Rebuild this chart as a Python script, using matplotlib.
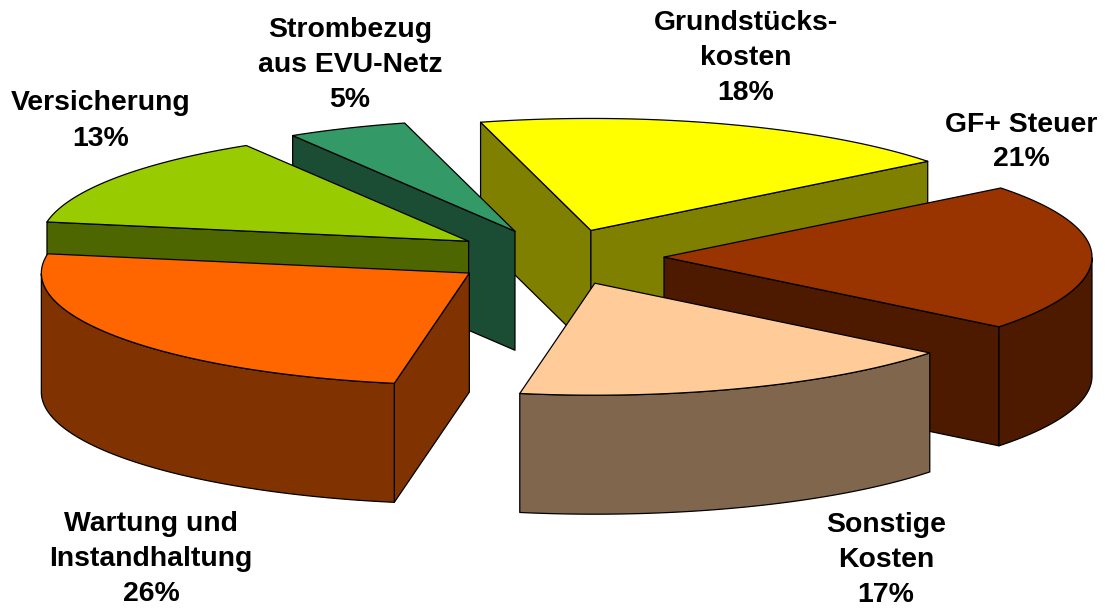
import numpy as np
import matplotlib
matplotlib.use("Agg")
import matplotlib.pyplot as plt
from matplotlib.patches import Polygon

# Data (clockwise, starting at the yellow slice)
labels = ["Grundstücks-\nkosten", "GF+ Steuer", "Sonstige\nKosten",
          "Wartung und\nInstandhaltung", "Versicherung", "Strombezug\naus EVU-Netz"]
values = [18, 21, 17, 26, 13, 5]
top_colors = ["#FFFF00", "#993300", "#FFCC99", "#FF6600", "#99CC00", "#339966"]
side_colors = ["#808000", "#4D1A00", "#80664D", "#803300", "#4D6600", "#1A4D33"]
label_pos = [(746, 58), (1021, 142), (886, 560), (151, 559), (101, 121), (350, 65)]

# Projection of the pie
CX, CY, RX, RY, DEPTH, EXPLODE, START = 557, 257, 428, 112, 119, 0.25, -15.5
# Angular distortion of the 3D view, sampled at the slice boundaries
VIEW_SHIFT = [0.56, 2.6, 3.6, 4.0, 0.2, 2.2, 0.56]

edges = START + np.concatenate([[0], np.cumsum(values)]) * 3.6


def warp(t):
    return t + np.interp(t, edges, VIEW_SHIFT)


def point(t, ox, oy, dz=0.0):
    r = np.radians(warp(t))
    return ox + RX * np.sin(r), oy - RY * np.cos(r) + dz


fig = plt.figure(figsize=(11.05, 6.08), dpi=100)
ax = fig.add_axes([0, 0, 1, 1])
ax.set_xlim(0, 1105)
ax.set_ylim(608, 0)
ax.axis("off")

slices = []
for i in range(len(values)):
    slices.append((edges[i], edges[i + 1], top_colors[i], side_colors[i]))
# far slices are painted first
slices.sort(key=lambda s: -np.cos(np.radians(warp((s[0] + s[1]) / 2))))

for t1, t2, top, side in slices:
    mid = np.radians(warp((t1 + t2) / 2))
    ox = CX + EXPLODE * RX * np.sin(mid)
    oy = CY - EXPLODE * RY * np.cos(mid)
    kw = dict(edgecolor="black", linewidth=0.9, joinstyle="round")
    w1, w2 = np.radians(warp(t1)), np.radians(warp(t2))
    for t, visible in ((t1, np.sin(w1) < 0), (t2, np.sin(w2) > 0)):
        if visible:
            a = point(t, ox, oy)
            b = point(t, ox, oy, DEPTH)
            ax.add_patch(Polygon([(ox, oy), a, b, (ox, oy + DEPTH)], facecolor=side, **kw))
    ts = np.linspace(t1, t2, 160)
    front = ts[np.cos(np.radians(warp(ts))) < 0]
    if front.size > 1:
        upper = [point(t, ox, oy) for t in front]
        lower = [point(t, ox, oy, DEPTH) for t in front[::-1]]
        ax.add_patch(Polygon(upper + lower, facecolor=side, **kw))
    rim = [point(t, ox, oy) for t in ts]
    ax.add_patch(Polygon([(ox, oy)] + rim, facecolor=top, **kw))

for name, v, (x, y) in zip(labels, values, label_pos):
    ax.text(x, y, f"{name}\n{v}%", ha="center", va="center", ma="center",
            fontsize=20.4, fontweight="bold", family="Liberation Sans",
            linespacing=1.45, color="black")

fig.savefig("out.png", dpi=100, facecolor="white")
